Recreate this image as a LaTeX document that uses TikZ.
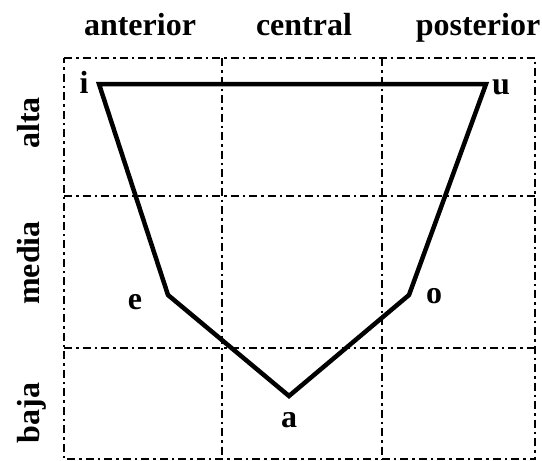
\documentclass[tikz,border=0pt]{standalone}
\usepackage{fontspec}
\setmainfont{Liberation Serif}
\begin{document}
\begin{tikzpicture}[x=1pt,y=-1pt,
  gridline/.style={line width=2.6pt, dash pattern=on 8pt off 4pt on 2.5pt off 4pt},
  vowelline/.style={line width=4.5pt, line join=miter},
  lbl/.style={font=\fontsize{32}{32}\selectfont\bfseries, inner sep=0pt, anchor=base},
  vlbl/.style={font=\fontsize{32}{32}\selectfont\bfseries, inner sep=0pt, anchor=base},
]
\useasboundingbox (0,0) rectangle (542,461);
% grid
\coordinate (g00) at (64,58);
\coordinate (g30) at (535,58);
\coordinate (g03) at (64,459);
\coordinate (g33) at (535,459);
\coordinate (c1t) at (222,58);
\coordinate (c1b) at (222,459);
\coordinate (c2t) at (382,58);
\coordinate (c2b) at (382,459);
\coordinate (r1l) at (64,196);
\coordinate (r1r) at (535,196);
\coordinate (r2l) at (64,348);
\coordinate (r2r) at (535,348);
\draw[gridline] (g00) -- (g30) -- (g33) -- (g03) -- cycle;
\draw[gridline] (c1t) -- (c1b);
\draw[gridline] (c2t) -- (c2b);
\draw[gridline] (r1l) -- (r1r);
\draw[gridline] (r2l) -- (r2r);
% vowel trapezoid
\coordinate (pi) at (99,84);
\coordinate (pu) at (486,84);
\coordinate (po) at (409,295);
\coordinate (pa) at (289,396);
\coordinate (pe) at (168,295);
\draw[vowelline] (pi) -- (pu) -- (po) -- (pa) -- (pe) -- cycle;
% column labels
\node[lbl] (ant) at (140,35) {anterior};
\node[lbl] (cen) at (304,35) {central};
\node[lbl] (pos) at (478,35) {posterior};
% row labels
\node[vlbl, rotate=90] (alta) at (39,123) {alta};
\node[vlbl, rotate=90] (media) at (39,263) {media};
\node[vlbl, rotate=90] (baja) at (39,413) {baja};
% vowels
\node[lbl] (vi) at (84,93) {i};
\node[lbl] (vu) at (501,94) {u};
\node[lbl] (ve) at (135,309) {e};
\node[lbl] (vo) at (434,303) {o};
\node[lbl] (va) at (289,427) {a};
\end{tikzpicture}
\end{document}
